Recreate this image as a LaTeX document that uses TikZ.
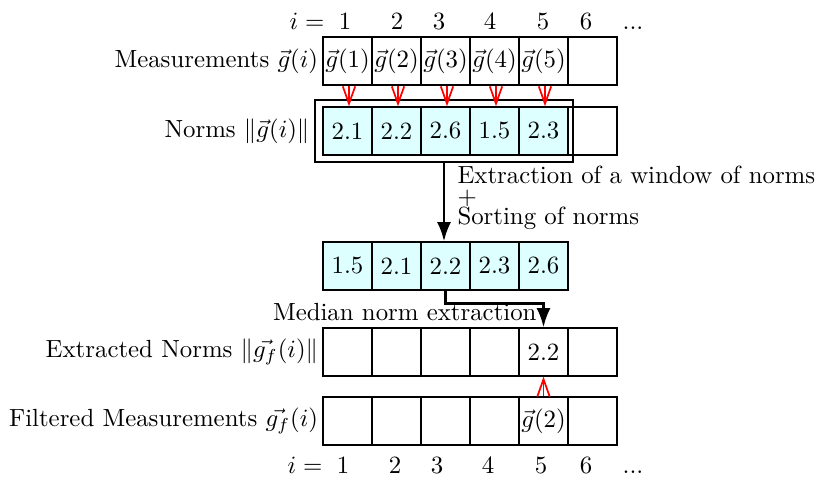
\documentclass[tikz,border=0pt]{standalone}
\usetikzlibrary{arrows.meta}
\definecolor{lcyan}{RGB}{221,255,255}
\begin{document}
\begin{tikzpicture}[x=0.403pt,y=-0.403pt,
  cell/.style={draw, line width=0.55pt, minimum width=19.75pt, minimum height=19.34pt, inner sep=0pt},
  ncell/.style={cell, fill=lcyan},
  lab/.style={anchor=east, inner sep=1.5pt},
  idx/.style={anchor=base, inner sep=0pt},
  redarrow/.style={red, line width=0.7pt, -{Straight Barb[length=7pt,width=5pt]}},
  bigarrow/.style={line width=1pt, -{Latex[length=7.7pt,width=5.6pt]}}]
\useasboundingbox (0,0) rectangle (817,478);
% top index row
\node[idx] (ti) at (307,30) {$i=$};
\node[idx] (t1) at (345,30) {1};
\node[idx] (t2) at (397,30) {2};
\node[idx] (t3) at (439,30) {3};
\node[idx] (t4) at (490,30) {4};
\node[idx] (t5) at (543,30) {5};
\node[idx] (t6) at (586,30) {6};
\node[idx] (t7) at (633,30) {...};
% measurements
\node[cell] (m1) at (347.5,61) {$\vec g(1)$};
\node[cell] (m2) at (396.5,61) {$\vec g(2)$};
\node[cell] (m3) at (445.5,61) {$\vec g(3)$};
\node[cell] (m4) at (494.5,61) {$\vec g(4)$};
\node[cell] (m5) at (543.5,61) {$\vec g(5)$};
\node[cell] (m6) at (592.5,61) {};
\node[lab] (lm) at (m1.west) {Measurements $\vec g(i)$};
% norms
\node[ncell] (n1) at (347.5,131) {2.1};
\node[ncell] (n2) at (396.5,131) {2.2};
\node[ncell] (n3) at (445.5,131) {2.6};
\node[ncell] (n4) at (494.5,131) {1.5};
\node[ncell] (n5) at (543.5,131) {2.3};
\node[cell] (n6) at (592.5,131) {};
\node[draw, line width=1.1pt, minimum width=104pt, minimum height=25pt, inner sep=0pt] (win) at (444,131) {};
\node[lab] (ln) at (win.west) {Norms $\|\vec g(i)\|$};
\foreach \i in {1,...,5} \draw[redarrow] ([xshift=0.6pt]m\i.south) -- ([xshift=0.6pt]n\i.north);
% sorted
\node[ncell] (s1) at (347.5,266) {1.5};
\node[ncell] (s2) at (396.5,266) {2.1};
\node[ncell] (s3) at (445.5,266) {2.2};
\node[ncell] (s4) at (494.5,266) {2.3};
\node[ncell] (s5) at (543.5,266) {2.6};
\draw[bigarrow] (win.south) -- (win.south |- s3.north);
\node[anchor=north west, align=left, inner sep=0pt] (lx) at (457,165.5) {Extraction of a window of norms\\[-3.7pt]$+$\\[-3.7pt]Sorting of norms};
% extracted
\node[cell] (e1) at (347.5,352) {};
\node[cell] (e2) at (396.5,352) {};
\node[cell] (e3) at (445.5,352) {};
\node[cell] (e4) at (494.5,352) {};
\node[cell] (e5) at (543.5,352) {2.2};
\node[cell] (e6) at (592.5,352) {};
\node[lab] (le) at (e1.west) {Extracted Norms $\|\vec{g_f}(i)\|$};
\draw[bigarrow] (s3.south) -- ++(0,13) coordinate (mc) -| (e5.north);
\node[anchor=base east, inner sep=0pt] (lmed) at (537,321) {Median norm extraction};
% filtered
\node[cell] (f1) at (347.5,421) {};
\node[cell] (f2) at (396.5,421) {};
\node[cell] (f3) at (445.5,421) {};
\node[cell] (f4) at (494.5,421) {};
\node[cell] (f5) at (543.5,421) {$\vec g(2)$};
\node[cell] (f6) at (592.5,421) {};
\node[lab] (lf) at (f1.west) {Filtered Measurements $\vec{g_f}(i)$};
\draw[redarrow] (f5.north) -- (e5.south);
% bottom index row
\node[idx] (bi) at (305,474) {$i=$};
\node[idx] (b1) at (343,474) {1};
\node[idx] (b2) at (395,474) {2};
\node[idx] (b3) at (437,474) {3};
\node[idx] (b4) at (488,474) {4};
\node[idx] (b5) at (541,474) {5};
\node[idx] (b6) at (586,474) {6};
\node[idx] (b7) at (633,474) {...};
\end{tikzpicture}
\end{document}
